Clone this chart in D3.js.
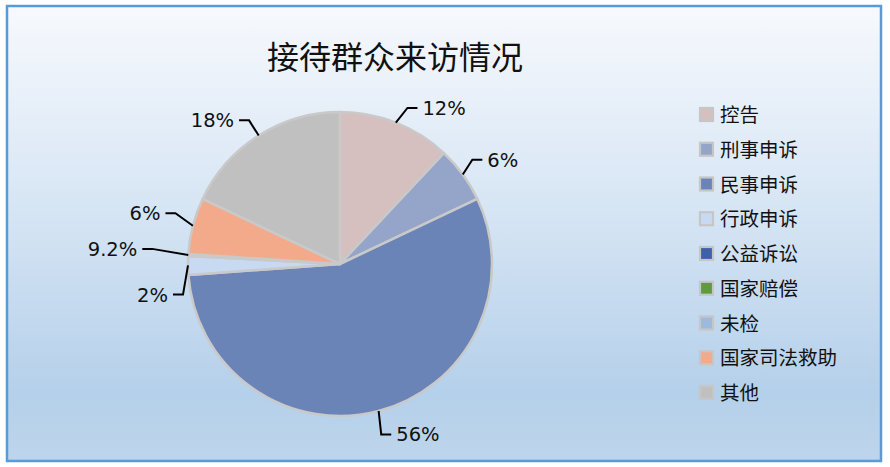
<!DOCTYPE html>
<html>
<head>
<meta charset="utf-8">
<script src="https://cdn.jsdelivr.net/npm/d3@7/dist/d3.min.js"></script>
<style>
  html, body { margin: 0; padding: 0; background: #ffffff; }
  svg { display: block; }
</style>
</head>
<body>
<svg id="chart" width="890" height="467"></svg>
<script>
// Visitor reception breakdown
const title = "接待群众来访情况";
const categories = ["控告", "刑事申诉", "民事申诉", "行政申诉", "公益诉讼", "国家赔偿", "未检", "国家司法救助", "其他"];
const values = [12, 6, 56, 2, 0.2, 0, 0, 6, 18];
const valueLabels = ["12%", "6%", "56%", "2%", "9.2%", "", "", "6%", "18%"];
const colors = ["#d6bfbf", "#95a5c9", "#6a84b7", "#c8daf1", "#3e60aa", "#5f9b3b", "#9bbade", "#f3aa8b", "#c0c0c0"];

const W = 890, H = 467;
const svg = d3.select("#chart");

// background panel with vertical gradient
const defs = svg.append("defs");
const grad = defs.append("linearGradient")
  .attr("id", "bg").attr("x1", 0).attr("y1", 0).attr("x2", 0).attr("y2", 1);
grad.append("stop").attr("offset", "0%").attr("stop-color", "#f7f9fd");
grad.append("stop").attr("offset", "45%").attr("stop-color", "#d6e5f4");
grad.append("stop").attr("offset", "85%").attr("stop-color", "#b5d0ea");
grad.append("stop").attr("offset", "100%").attr("stop-color", "#bdd5ec");

svg.append("rect")
  .attr("x", 7).attr("y", 6).attr("width", 874).attr("height", 455)
  .attr("fill", "url(#bg)")
  .attr("stroke", "#5b9bd5").attr("stroke-width", 2.5);

// title
svg.append("text")
  .attr("x", 395).attr("y", 69)
  .attr("text-anchor", "middle")
  .attr("font-family", "'Noto Sans CJK SC', sans-serif")
  .attr("font-size", 32)
  .attr("fill", "#111")
  .text(title);

// pie
const cx = 340, cy = 264, R = 152;
const data = categories.map((c, i) => ({ name: c, value: values[i], label: valueLabels[i], color: colors[i], idx: i }));
const pie = d3.pie().sort(null).value(d => d.value);
const arcs = pie(data);
const arc = d3.arc().innerRadius(0).outerRadius(R);

const g = svg.append("g").attr("transform", `translate(${cx},${cy})`);
g.selectAll("path.slice")
  .data(arcs.filter(a => a.data.value > 0))
  .join("path")
  .attr("class", "slice")
  .attr("d", arc)
  .attr("fill", d => d.data.color)
  .attr("stroke", "#c9c9c9")
  .attr("stroke-width", 2.5)
  .attr("stroke-linejoin", "round");

// label leader layout: nudges keep crowded small-slice labels apart
const nudge = { 0: [5, 2], 1: [-5, -4], 2: [-2, 6], 3: [13, 29], 4: [-18, -5], 7: [0, -8] };
const lab = svg.append("g").attr("transform", `translate(${cx},${cy})`);
arcs.filter(a => a.data.label).forEach(a => {
  const mid = (a.startAngle + a.endAngle) / 2;
  const sx = Math.sin(mid), sy = -Math.cos(mid);
  const p0 = [sx * R, sy * R];
  const n = nudge[a.data.idx] || [0, 0];
  const p1 = [sx * (R + 18) + n[0], sy * (R + 18) + n[1]];
  const right = sx >= 0;
  const p2 = [p1[0] + (right ? 10 : -10), p1[1]];
  lab.append("path")
    .attr("d", d3.line()([p0, p1, p2]))
    .attr("fill", "none")
    .attr("stroke", "#000")
    .attr("stroke-width", 2);
  lab.append("text")
    .attr("x", p2[0] + (right ? 5 : -5))
    .attr("y", p2[1])
    .attr("dy", "0.36em")
    .attr("text-anchor", right ? "start" : "end")
    .attr("font-family", "'DejaVu Sans', sans-serif")
    .attr("font-size", 19.5)
    .attr("fill", "#111")
    .text(a.data.label);
});

// legend
const legendY = d3.scalePoint().domain(categories).range([115, 393]);
const leg = svg.append("g");
const items = leg.selectAll("g.item").data(data).join("g")
  .attr("class", "item")
  .attr("transform", d => `translate(700,${legendY(d.name)})`);
items.append("rect")
  .attr("x", 0).attr("y", -7).attr("width", 13).attr("height", 13)
  .attr("fill", d => d.color)
  .attr("stroke", "#c6c6c6").attr("stroke-width", 2.2);
items.append("text")
  .attr("x", 20).attr("y", 0).attr("dy", "0.36em")
  .attr("font-family", "'Noto Sans CJK SC', sans-serif")
  .attr("font-size", 19.5)
  .attr("fill", "#111")
  .text(d => d.name);
</script>
</body>
</html>
